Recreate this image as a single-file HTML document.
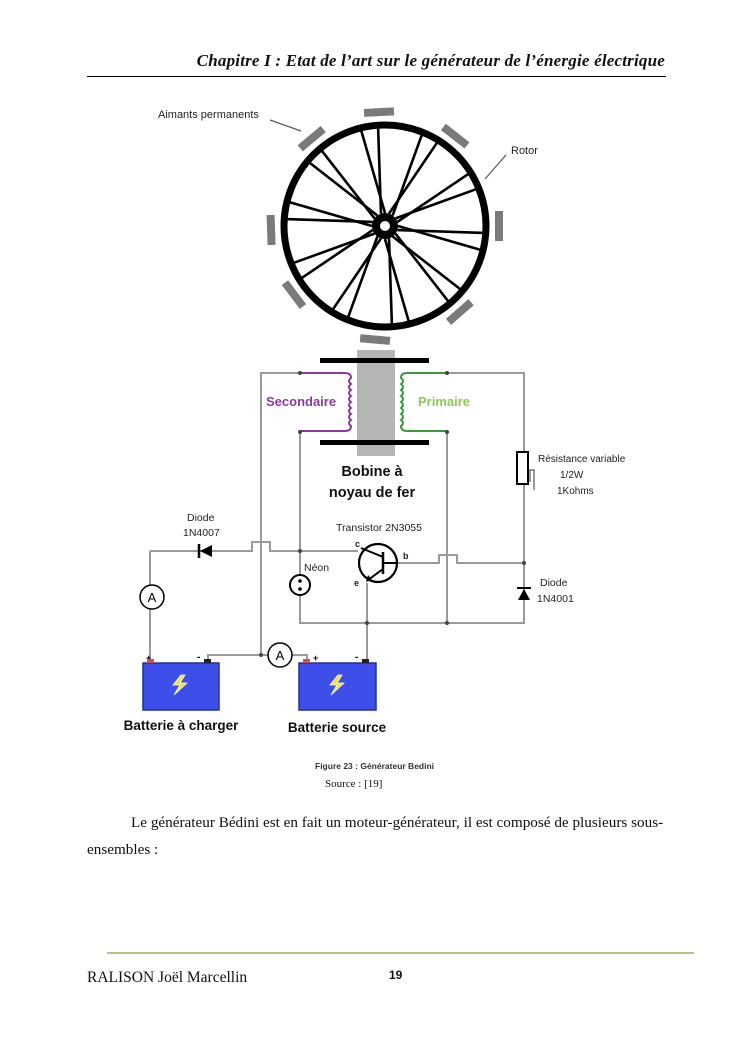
<!DOCTYPE html>
<html><head><meta charset="utf-8"><style>
html,body{margin:0;padding:0;background:#fff}
body{width:745px;height:1053px;position:relative;overflow:hidden;font-family:"Liberation Serif",serif}
.a{position:absolute;white-space:nowrap}
</style></head><body>
<div class="a" style="right:80px;top:51px;font-family:'Liberation Serif',serif;font-style:italic;font-weight:bold;font-size:17px;color:#111;letter-spacing:0.2px">Chapitre I : Etat de l’art sur le générateur de l’énergie électrique</div>
<div class="a" style="left:87px;top:76px;width:579px;height:1px;background:#000"></div>

<svg class="a" style="left:0;top:0" width="745" height="1053" viewBox="0 0 745 1053" font-family="Liberation Sans, sans-serif">
<g id="wheel">
 <circle cx="385" cy="226" r="101" fill="none" stroke="#000" stroke-width="7"/>
 <circle cx="385" cy="226" r="9" fill="none" stroke="#000" stroke-width="8"/>
</g>
<text x="158" y="118" font-size="11" fill="#222">Aimants permanents</text>
<line x1="270" y1="120" x2="301" y2="131" stroke="#555" stroke-width="1.2"/>
<text x="511" y="154" font-size="11" fill="#222">Rotor</text>
<line x1="506" y1="155" x2="485" y2="179" stroke="#555" stroke-width="1.2"/>

<rect x="357" y="350" width="38" height="106" fill="#b5b5b5"/>
<rect x="320" y="358" width="109" height="5" fill="#000"/>
<rect x="320" y="440" width="109" height="5" fill="#000"/>
<g fill="none" stroke-width="2">
<path d="M300 373 H345 q6 0 6 5 q-4 3 0 6 q-4 3 0 6 q-4 3 0 6 q-4 3 0 6 q-4 3 0 6 q-4 3 0 6 q-4 3 0 6 q-4 3 0 6 q0 5 -6 5 H300" stroke="#8b3a9b"/>
<path d="M447 373 H407 q-6 0 -6 5 q4 3 0 6 q4 3 0 6 q4 3 0 6 q4 3 0 6 q4 3 0 6 q4 3 0 6 q4 3 0 6 q4 3 0 6 q0 5 6 5 H447" stroke="#3a9a3a"/>
<g stroke="#9a9a9a">
<path d="M300 373 H261 V655"/>
<path d="M447 373 H524 V452"/>
<path d="M524 484 V623 H300 V432"/>
<path d="M447 432 V623"/>
<path d="M150 551 H252 V542 H270 V551 H358"/>
<path d="M398 563 H439 V555 H457 V563 H524"/>
<path d="M367 583 V662"/>
<path d="M150 551 V585 M150 609 V660"/>
<path d="M208 660 V655 H268 M292 655 H307 V660"/>
</g></g>
<g fill="#444"><circle cx="300" cy="373" r="2"/><circle cx="447" cy="373" r="2"/><circle cx="300" cy="432" r="2"/><circle cx="447" cy="432" r="2"/><circle cx="261" cy="655" r="2"/><circle cx="524" cy="563" r="2"/><circle cx="367" cy="623" r="2"/><circle cx="447" cy="623" r="2"/><circle cx="300" cy="551" r="2"/></g>
<rect x="517" y="452" width="11" height="32" fill="#fff" stroke="#000" stroke-width="2"/>
<path d="M530 482 V470 H534 V490" fill="none" stroke="#777" stroke-width="1.5"/>
<text x="538" y="462" font-size="10" fill="#222">Résistance variable</text>
<text x="560" y="478" font-size="10" fill="#222">1/2W</text>
<text x="557" y="494" font-size="10" fill="#222">1Kohms</text>
<path d="M518 600 L530 600 L524 589 Z" fill="#000"/><line x1="517" y1="588" x2="531" y2="588" stroke="#000" stroke-width="2"/>
<text x="540" y="586" font-size="10.5" fill="#222">Diode</text>
<text x="537" y="602" font-size="10.5" fill="#222">1N4001</text>
<path d="M212 545 L212 557 L200 551 Z" fill="#000"/><line x1="199" y1="544" x2="199" y2="558" stroke="#000" stroke-width="2.5"/>
<text x="187" y="521" font-size="10.5" fill="#222">Diode</text>
<text x="183" y="536" font-size="10.5" fill="#222">1N4007</text>
<circle cx="378" cy="563" r="19" fill="#fff" stroke="#000" stroke-width="2.2"/>
<line x1="383" y1="552" x2="383" y2="574" stroke="#000" stroke-width="2.5"/>
<line x1="383" y1="563" x2="398" y2="563" stroke="#000" stroke-width="2"/>
<line x1="383" y1="557" x2="361" y2="548" stroke="#000" stroke-width="2"/>
<line x1="383" y1="569" x2="368" y2="580" stroke="#000" stroke-width="2"/>
<path d="M366 582 L368 575 L372 580 Z" fill="#000"/>
<text x="336" y="531" font-size="10.5" fill="#222">Transistor 2N3055</text>
<text x="355" y="547" font-size="9" font-weight="bold" fill="#222">c</text>
<text x="403" y="559" font-size="9" font-weight="bold" fill="#222">b</text>
<text x="354" y="586" font-size="9" font-weight="bold" fill="#222">e</text>
<circle cx="300" cy="585" r="10" fill="#fff" stroke="#000" stroke-width="2"/>
<circle cx="300" cy="581" r="1.8"/><circle cx="300" cy="589" r="1.8"/>
<text x="304" y="571" font-size="10.5" fill="#222">Néon</text>
<circle cx="152" cy="597" r="12" fill="#fff" stroke="#000" stroke-width="1.5"/><text x="152" y="602" font-size="13" text-anchor="middle">A</text>
<circle cx="280" cy="655" r="12" fill="#fff" stroke="#000" stroke-width="1.5"/><text x="280" y="660" font-size="13" text-anchor="middle">A</text>
<text x="146" y="661" font-size="9" font-weight="bold">+</text><text x="197" y="660" font-size="10" font-weight="bold">-</text>
<text x="313" y="661" font-size="9" font-weight="bold">+</text><text x="355" y="660" font-size="10" font-weight="bold">-</text>
<rect x="143" y="663" width="76" height="47" fill="#3d4fe8" stroke="#23308f" stroke-width="1.5"/>
<rect x="299" y="663" width="77" height="47" fill="#3d4fe8" stroke="#23308f" stroke-width="1.5"/>
<rect x="147" y="659" width="7" height="4" fill="#d05050"/><rect x="204" y="659" width="7" height="4" fill="#222"/>
<rect x="303" y="659" width="7" height="4" fill="#d05050"/><rect x="362" y="659" width="7" height="4" fill="#222"/>
<path d="M181 675 l-8 10 h7 l-6 10 l13 -12 h-7 l5 -8 z" fill="#f0e040" stroke="#fff" stroke-width="0.8"/>
<path d="M338 675 l-8 10 h7 l-6 10 l13 -12 h-7 l5 -8 z" fill="#f0e040" stroke="#fff" stroke-width="0.8"/>
<text x="266" y="406" font-size="13" font-weight="bold" fill="#8b3a9b">Secondaire</text>
<text x="418" y="406" font-size="13" font-weight="bold" fill="#8ec85a">Primaire</text>
<text x="372" y="476" font-size="14.5" font-weight="bold" text-anchor="middle" fill="#111">Bobine à</text>
<text x="372" y="497" font-size="14.5" font-weight="bold" text-anchor="middle" fill="#111">noyau de fer</text>
<text x="181" y="730" font-size="13.5" font-weight="bold" text-anchor="middle" fill="#111">Batterie à charger</text>
<text x="337" y="732" font-size="13.5" font-weight="bold" text-anchor="middle" fill="#111">Batterie source</text>
</svg>
<script>
(function(){var g=document.getElementById('wheel'),cx=385,cy=226,s='';
for(var i=0;i<20;i++){var a=(i*18)*Math.PI/180,b=(i*18+(i%2?14:-14))*Math.PI/180;
s+='<line x1="'+(cx+13*Math.sin(a))+'" y1="'+(cy-13*Math.cos(a))+'" x2="'+(cx+99*Math.sin(b))+'" y2="'+(cy-99*Math.cos(b))+'" stroke="#000" stroke-width="2.6"/>';}
var m=[-3,38,90,139,185,233,268,320];
for(var j=0;j<8;j++){s+='<rect x="370" y="108" width="30" height="8" fill="#7a7a7a" transform="rotate('+m[j]+' 385 226)"/>';}
g.insertAdjacentHTML('afterbegin',s);})();
</script>
<div class="a" style="left:315px;top:761px;font-family:'Liberation Sans',sans-serif;font-size:8.5px;color:#333;font-weight:bold">Figure 23 : Générateur Bedini</div>
<div class="a" style="left:325px;top:778px;font-size:11px;color:#111">Source : [19]</div>
<div class="a" style="left:131px;top:814px;font-size:15.2px;color:#111">Le générateur Bédini est en fait un moteur-générateur, il est composé de plusieurs sous-</div>
<div class="a" style="left:87px;top:841px;font-size:15.2px;color:#111">ensembles :</div>
<div class="a" style="left:107px;top:952px;width:587px;height:2px;background:#b6c48a"></div>
<div class="a" style="left:87px;top:969px;font-size:15.5px;color:#111">RALISON Joël Marcellin</div>
<div class="a" style="left:389px;top:968px;font-family:'Liberation Sans',sans-serif;font-weight:bold;font-size:12px;color:#111">19</div>
</body></html>
